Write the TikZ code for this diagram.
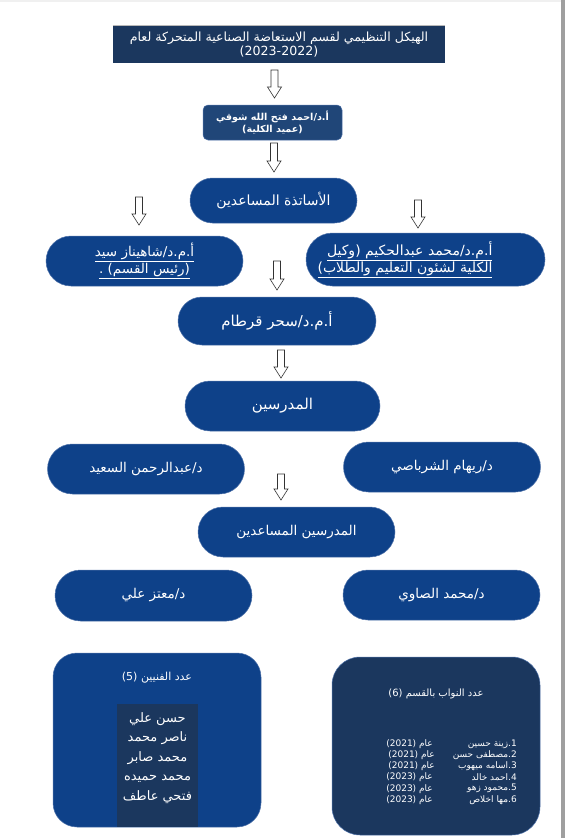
\documentclass[tikz,border=0pt]{standalone}
\usepackage{fontspec}
\usetikzlibrary{shapes.misc}
\TeXXeTstate=1
\newfontfamily\arabicfont[Script=Arabic]{DejaVu Sans}
\newfontfamily\latinsans{Liberation Sans}
\newcommand\ar[1]{\beginR #1\endR}
\definecolor{pillblue}{RGB}{14,65,137}
\definecolor{navy}{RGB}{27,55,94}
\definecolor{deanblue}{RGB}{32,70,120}
\definecolor{pilledge}{RGB}{80,115,170}
\tikzset{
  pill/.style={rounded rectangle, fill=pillblue, draw=pilledge, line width=0.5pt,
    text=white, font=\arabicfont\fontsize{13.5}{17}\selectfont, align=center,
    inner sep=0pt, minimum width=197pt, minimum height=50pt},
  hollow/.style={draw=black!80, fill=white, line width=0.6pt, line join=miter},
  bigbox/.style={rounded corners=24pt, line width=0.5pt},
  plain/.style={text=white, inner sep=0pt, align=center},
}
\newcommand\hollowarrow[3]{%
  \path[hollow] (#1-3.5,#2) -- (#1+3.5,#2) -- (#1+3.5,#3-11) -- (#1+7,#3-11)
    -- (#1,#3) -- (#1-7,#3-11) -- (#1-3.5,#3-11) -- cycle;}
\begin{document}
\begin{tikzpicture}[x=1pt,y=-1pt]
\useasboundingbox (0,0) rectangle (565,838);
\fill[white] (0,0) rectangle (565,838);
\fill[gray!12] (0,0) rectangle (561,2);
\fill[gray!75] (561,0) rectangle (565,838);

% title
\node[fill=navy, plain, minimum width=332pt, minimum height=37pt,
  font=\arabicfont\fontsize{12.6}{14}\selectfont] (title) at (279,44.5)
  {\ar{الهيكل التنظيمي لقسم الاستعاضة الصناعية المتحركة لعام}\\(2023-2022)};
\draw[gray!55, line width=1pt] (title.north west) -- (title.north east);

\hollowarrow{274.5}{70}{98}

% dean
\node[fill=deanblue, draw=pilledge, line width=0.5pt, rounded corners=5pt, plain,
  minimum width=139pt, minimum height=35pt,
  font=\arabicfont\bfseries\fontsize{9.6}{12}\selectfont] (dean) at (272.5,122.5)
  {\ar{أ.د/احمد فتح الله شوقي}\\\ar{(عميد الكلية)}};

\hollowarrow{274}{143}{172}

\node[pill, minimum width=167pt, minimum height=45pt, font=\arabicfont\fontsize{14}{17}\selectfont] (asst) at (273.5,200.5)
  {\ar{الأساتذة المساعدين}};

\hollowarrow{139}{197}{225}
\hollowarrow{418}{200}{228}

\node[pill, minimum width=197pt, minimum height=50pt, font=\arabicfont\fontsize{13.5}{17}\selectfont] (shahinaz) at (144.5,261)
  {\underline{\ar{أ.م.د/شاهيناز سيد}}\\\underline{\ar{(رئيس القسم) .}}};
\node[pill, minimum width=239pt, minimum height=53pt] (wakeel) at (425.5,259.5) {};
\node[plain, align=right, font=\arabicfont\fontsize{14}{17}\selectfont] (wakeeltext) at (405,259.5)
  {\underline{\ar{أ.م.د/محمد عبدالحكيم (وكيل}}\\\underline{\ar{الكلية لشئون التعليم والطلاب)}}};

\hollowarrow{277}{261}{290}

\node[pill, minimum width=198pt, minimum height=48pt, font=\arabicfont\fontsize{15}{17}\selectfont] (sahar) at (277,321)
  {\ar{أ.م.د/سحر قرطام}};

\hollowarrow{281}{350}{378}

\node[pill, minimum width=195pt, minimum height=50pt, font=\arabicfont\fontsize{15}{17}\selectfont] (mud) at (282.5,406)
  {\ar{المدرسين}};

\node[pill] (abd) at (146,469) {\ar{د/عبدالرحمن السعيد}};
\node[pill] (riham) at (442,467) {\ar{د/ريهام الشرباصي}};

\hollowarrow{281}{474}{500}

\node[pill] (mudasst) at (296.5,532) {\ar{المدرسين المساعدين}};

\node[pill, minimum height=51pt] (muataz) at (153.5,595.5) {\ar{د/معتز علي}};
\node[pill] (sawi) at (441.5,595) {\ar{د/محمد الصاوي}};

% technicians box
\path[bigbox, fill=pillblue, draw=pilledge] (53,653) rectangle (261,827);
\fill[navy] (117,704) rectangle (198,827);
\node[plain, font=\arabicfont\fontsize{11}{13}\selectfont] (techtitle) at (157,678)
  {\ar{عدد الفنيين (5)}};
\node[plain, font=\arabicfont\fontsize{13}{19.5}\selectfont, anchor=north] (technames) at (157.5,712)
  {\ar{حسن علي}\\\ar{ناصر محمد}\\\ar{محمد صابر}\\\ar{محمد حميده}\\\ar{فتحي عاطف}};

% deputies box
\path[bigbox, rounded corners=28pt, fill=navy, draw=pilledge] (332,657) rectangle (540,835);
\node[plain, font=\arabicfont\fontsize{10}{12}\selectfont] (deptitle) at (436,694)
  {\ar{عدد النواب بالقسم (6)}};
\begin{scope}[every node/.style={plain, font=\arabicfont\fontsize{9}{10}\selectfont}]
\node[anchor=east] (n1) at (517,744) {\ar{1.زينة حسين}};
\node[anchor=east] (n2) at (517,755.2) {\ar{2.مصطفى حسن}};
\node[anchor=east] (n3) at (517,766.4) {\ar{3.اسامه ميهوب}};
\node[anchor=east] (n4) at (517,777.6) {\ar{4.احمد خالد}};
\node[anchor=east] (n5) at (517,788.8) {\ar{5.محمود زهو}};
\node[anchor=east] (n6) at (517,800) {\ar{6.مها اخلاص}};
\node[anchor=east] (y1) at (433,744) {\ar{عام (2021)}};
\node[anchor=east] (y2) at (435,755.2) {\ar{عام (2021)}};
\node[anchor=east] (y3) at (435,766.4) {\ar{عام (2021)}};
\node[anchor=east] (y4) at (433,777.6) {\ar{عام (2023)}};
\node[anchor=east] (y5) at (433,788.8) {\ar{عام (2023)}};
\node[anchor=east] (y6) at (433,800) {\ar{عام (2023)}};
\end{scope}
\end{tikzpicture}
\end{document}
